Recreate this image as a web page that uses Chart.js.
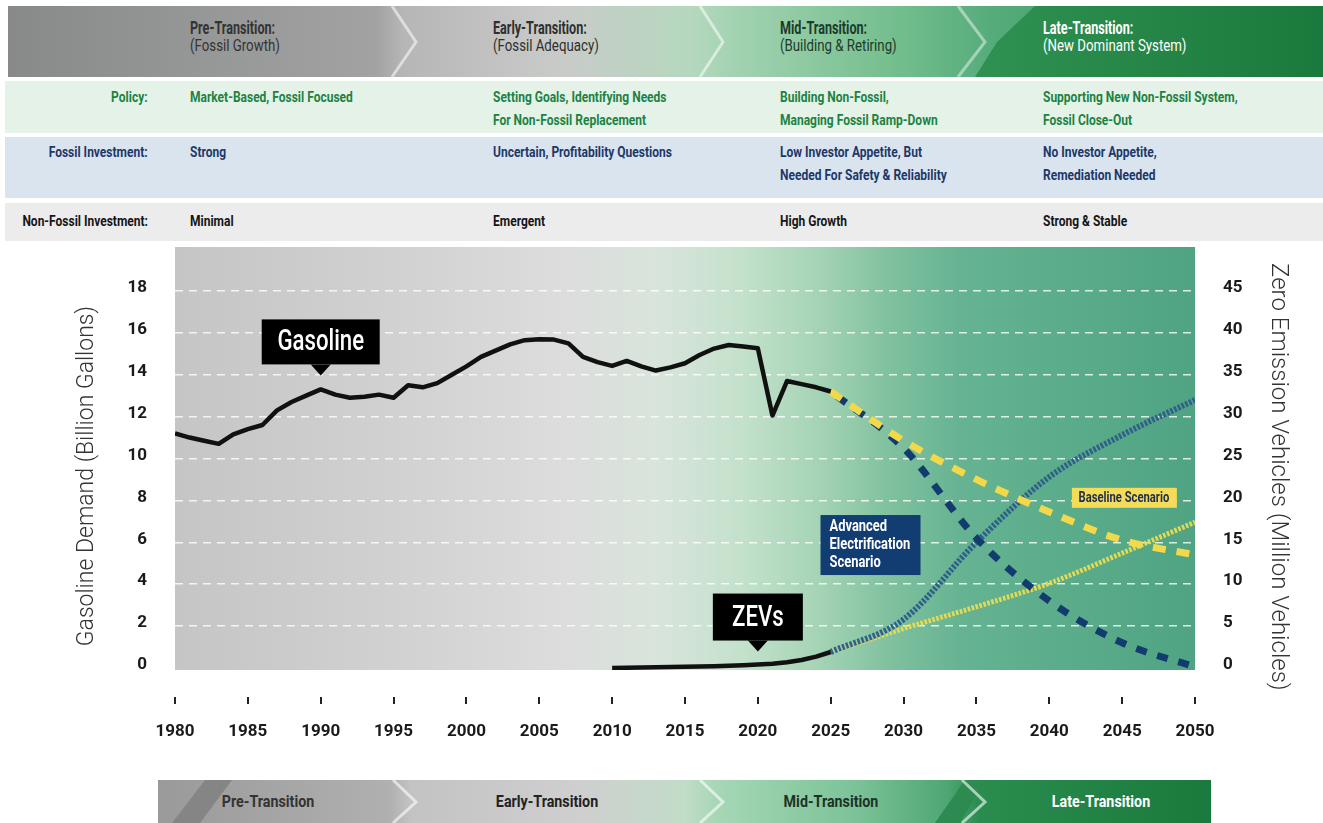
<!DOCTYPE html>
<html>
<head>
<meta charset="utf-8">
<script src="https://cdn.jsdelivr.net/npm/chart.js@4.4.1/dist/chart.umd.min.js"></script>
<style>
  body { margin: 0; width: 1323px; height: 823px; overflow: hidden; position: relative; background: #fff;
    font-family: Roboto, "Liberation Sans", sans-serif; }
  #deco { position: absolute; left: 0; top: 0; }
  .t { position: absolute; white-space: nowrap; transform-origin: 0 0; }
  .ph b { display: block; font-size: 18px; line-height: 17px; transform-origin: 0 0; transform: scaleX(0.7); }
  .ph span { display: block; font-size: 17px; line-height: 19px; transform-origin: 0 0; transform: scaleX(0.78); }
  .row { font-weight: bold; font-size: 15px; line-height: 23px; transform: scaleX(0.8); }
  .lbl { text-align: right; right: 1175px; transform-origin: 100% 0; }
  .pol { color: #1c8243; }
  .fos { color: #1d3868; }
  .non { color: #151515; }
  .foot { top: 791px; font-weight: bold; font-size: 17px; line-height: 20px; transform-origin: 50% 0; transform: translateX(-50%) scaleX(0.84); }
  #wrap { position: absolute; left: 0; top: 245px; width: 1323px; height: 535px; }
</style>
</head>
<body>
<svg id="deco" width="1323" height="823">
  <defs>
    <linearGradient id="gTop" gradientUnits="userSpaceOnUse" x1="8" y1="0" x2="1323" y2="0">
      <stop offset="0" stop-color="#888a8a"/>
      <stop offset="0.28" stop-color="#a2a2a2"/>
      <stop offset="0.3" stop-color="#b6b6b6"/>
      <stop offset="0.42" stop-color="#c9cbc9"/>
      <stop offset="0.52" stop-color="#b5d8be"/>
      <stop offset="0.55" stop-color="#a3d3b2"/>
      <stop offset="0.68" stop-color="#72bd8c"/>
      <stop offset="0.75" stop-color="#55ab7a"/>
      <stop offset="1" stop-color="#2f8f52"/>
    </linearGradient>
    <linearGradient id="gDark" gradientUnits="userSpaceOnUse" x1="975" y1="0" x2="1323" y2="0">
      <stop offset="0" stop-color="#2f9152"/>
      <stop offset="1" stop-color="#1a7a3d"/>
    </linearGradient>
    <linearGradient id="gBot" gradientUnits="userSpaceOnUse" x1="158" y1="0" x2="1211" y2="0">
      <stop offset="0" stop-color="#9a9a9a"/>
      <stop offset="0.22" stop-color="#b0b0b0"/>
      <stop offset="0.24" stop-color="#c3c3c3"/>
      <stop offset="0.4" stop-color="#cfcfcf"/>
      <stop offset="0.5" stop-color="#c2dcc8"/>
      <stop offset="0.53" stop-color="#a6d7b6"/>
      <stop offset="0.66" stop-color="#7dc399"/>
      <stop offset="0.75" stop-color="#4ea673"/>
      <stop offset="0.78" stop-color="#2a8c4e"/>
      <stop offset="1" stop-color="#1a7a3d"/>
    </linearGradient>
  </defs>
  <!-- phase banner -->
  <rect x="8" y="6" width="1315" height="71" fill="url(#gTop)"/>
  <polygon points="1035,6 1323,6 1323,77 975,77 997,42" fill="url(#gDark)"/>
  <polyline points="392,6 416,42 392,77" fill="none" stroke="rgba(255,255,255,0.55)" stroke-width="3"/>
  <polyline points="700,6 723,42 700,77" fill="none" stroke="rgba(255,255,255,0.55)" stroke-width="3"/>
  <polyline points="958,6 985,42 958,77" fill="none" stroke="rgba(255,255,255,0.45)" stroke-width="3"/>
  <!-- rows -->
  <rect x="5" y="81" width="1318" height="52" fill="#e4f2e8"/>
  <rect x="5" y="137" width="1318" height="61" fill="#dae4ee"/>
  <rect x="5" y="203" width="1318" height="38" fill="#ececec"/>
  <!-- bottom banner -->
  <rect x="158" y="780" width="1053" height="43" fill="url(#gBot)"/>
  <polygon points="172,823 205,780 232,780 200,823" fill="#858585"/>
  <polygon points="935,823 965,780 985,780 960,823" fill="#2d8a50"/>
  <polyline points="393,780 416,802 393,823" fill="none" stroke="rgba(255,255,255,0.6)" stroke-width="3"/>
  <polyline points="700,780 723,802 700,823" fill="none" stroke="rgba(255,255,255,0.6)" stroke-width="3"/>
  <polyline points="962,780 985,802 962,823" fill="none" stroke="rgba(255,255,255,0.6)" stroke-width="3"/>
</svg>

<div class="t ph" style="left:190px;top:19px;color:#333"><b>Pre-Transition:</b><span>(Fossil Growth)</span></div>
<div class="t ph" style="left:493px;top:19px;color:#2f2f2f"><b>Early-Transition:</b><span>(Fossil Adequacy)</span></div>
<div class="t ph" style="left:780px;top:19px;color:#1d3b2a"><b>Mid-Transition:</b><span>(Building &amp; Retiring)</span></div>
<div class="t ph" style="left:1043px;top:19px;color:#fff"><b>Late-Transition:</b><span>(New Dominant System)</span></div>

<div class="t row pol lbl" style="top:86px">Policy:</div>
<div class="t row pol" style="left:190px;top:86px">Market-Based, Fossil Focused</div>
<div class="t row pol" style="left:493px;top:86px">Setting Goals, Identifying Needs<br>For Non-Fossil Replacement</div>
<div class="t row pol" style="left:780px;top:86px">Building Non-Fossil,<br>Managing Fossil Ramp-Down</div>
<div class="t row pol" style="left:1043px;top:86px">Supporting New Non-Fossil System,<br>Fossil Close-Out</div>

<div class="t row fos lbl" style="top:141px">Fossil Investment:</div>
<div class="t row fos" style="left:190px;top:141px">Strong</div>
<div class="t row fos" style="left:493px;top:141px">Uncertain, Profitability Questions</div>
<div class="t row fos" style="left:780px;top:141px">Low Investor Appetite, But<br>Needed For Safety &amp; Reliability</div>
<div class="t row fos" style="left:1043px;top:141px">No Investor Appetite,<br>Remediation Needed</div>

<div class="t row non lbl" style="top:210px">Non-Fossil Investment:</div>
<div class="t row non" style="left:190px;top:210px">Minimal</div>
<div class="t row non" style="left:493px;top:210px">Emergent</div>
<div class="t row non" style="left:780px;top:210px">High Growth</div>
<div class="t row non" style="left:1043px;top:210px">Strong &amp; Stable</div>

<div id="wrap"><canvas id="chart" width="1323" height="535"></canvas></div>

<div class="t foot" style="left:268px;color:#333">Pre-Transition</div>
<div class="t foot" style="left:547px;color:#222">Early-Transition</div>
<div class="t foot" style="left:831px;color:#1d3326">Mid-Transition</div>
<div class="t foot" style="left:1101px;color:#fff">Late-Transition</div>

<script>
const FONT = "Roboto, 'Liberation Sans', sans-serif";

// historical gasoline demand, billion gallons
const histYears = [1980, 1981, 1982, 1983, 1984, 1985, 1986, 1987, 1988, 1989,
  1990, 1991, 1992, 1993, 1994, 1995, 1996, 1997, 1998, 1999,
  2000, 2001, 2002, 2003, 2004, 2005, 2006, 2007, 2008, 2009,
  2010, 2011, 2012, 2013, 2014, 2015, 2016, 2017, 2018, 2019,
  2020, 2021, 2022, 2023, 2024, 2025];
const gasolineHist = [11.2, 11.0, 10.85, 10.7, 11.15, 11.4, 11.6, 12.3, 12.7, 13.0,
  13.3, 13.05, 12.9, 12.95, 13.05, 12.9, 13.5, 13.4, 13.6, 14.0,
  14.4, 14.85, 15.15, 15.45, 15.65, 15.7, 15.68, 15.5, 14.85, 14.6,
  14.42, 14.66, 14.4, 14.2, 14.35, 14.55, 14.94, 15.25, 15.42, 15.35,
  15.26, 12.05, 13.7, 13.55, 13.4, 13.2];

// historical zero emission vehicles, million
const zevYears = [2010, 2011, 2012, 2013, 2014, 2015, 2016, 2017, 2018, 2019, 2020, 2021, 2022, 2023, 2024, 2025];
const zevHist = [0, 0.02, 0.04, 0.07, 0.1, 0.13, 0.17, 0.21, 0.26, 0.32, 0.4, 0.5, 0.68, 0.95, 1.35, 1.9];

// scenarios
const projYears = [2025, 2030, 2035, 2040, 2045, 2050];
const gasAdvanced = [13.2, 10.5, 6.2, 3.2, 1.2, 0.05];
const gasBaseline = [13.2, 10.85, 9.0, 7.45, 6.1, 5.4];
const zevAdvanced = [1.9, 5.8, 15.0, 22.8, 27.8, 32.0];
const zevBaseline = [1.9, 4.7, 7.3, 10.1, 13.7, 17.4];

// axis ticks
const yearTicks = [1980, 1985, 1990, 1995, 2000, 2005, 2010, 2015, 2020, 2025, 2030, 2035, 2040, 2045, 2050];
const gasTicks = [0, 2, 4, 6, 8, 10, 12, 14, 16, 18];
const zevTicks = [0, 5, 10, 15, 20, 25, 30, 35, 40, 45];

const pts = (xs, ys) => xs.map((x, i) => ({ x, y: ys[i] }));

// plot background: grey on the left fading into green
const bgPlugin = {
  id: 'bg',
  beforeDraw(chart) {
    const { ctx, chartArea: a, scales: { x } } = chart;
    const g = ctx.createLinearGradient(a.left, 0, a.right, 0);
    const stops = [[1980, '#c5c5c6'], [1995, '#d1d1d2'], [2006, '#dcdcdc'], [2013, '#d9e4dc'],
      [2019, '#c3e1cb'], [2024, '#a6d4b6'], [2029, '#80c19f'], [2034, '#65b392'], [2040, '#5cad8b'], [2050, '#50a483']];
    stops.forEach(([yr, c]) => g.addColorStop((x.getPixelForValue(yr) - a.left) / (a.right - a.left), c));
    ctx.save();
    ctx.fillStyle = g;
    ctx.fillRect(a.left, a.top, a.right - a.left, a.bottom - a.top);
    ctx.restore();
  },
  afterDraw(chart) {
    // short year tick marks below the plot
    const { ctx, scales: { x } } = chart;
    ctx.save();
    ctx.strokeStyle = '#222';
    ctx.lineWidth = 2;
    x.ticks.forEach(t => {
      const px = Math.round(x.getPixelForValue(t.value));
      ctx.beginPath();
      ctx.moveTo(px, x.top + 27);
      ctx.lineTo(px, x.top + 34);
      ctx.stroke();
    });
    ctx.restore();
  },
};

// condensed text: squeeze horizontally around the anchor
function narrowText(ctx, text, x, y, sx) {
  ctx.save();
  ctx.translate(x, y);
  ctx.scale(sx, 1);
  ctx.fillText(text, 0, 0);
  ctx.restore();
}

function callout(ctx, text, cx, tipY, w, h) {
  const bottom = tipY - 11;
  ctx.fillStyle = '#000';
  ctx.fillRect(cx - w / 2, bottom - h, w, h);
  ctx.beginPath();
  ctx.moveTo(cx - 10, bottom);
  ctx.lineTo(cx, tipY);
  ctx.lineTo(cx + 10, bottom);
  ctx.fill();
  ctx.fillStyle = '#fff';
  ctx.font = `500 30px ${FONT}`;
  ctx.textAlign = 'center';
  ctx.textBaseline = 'middle';
  narrowText(ctx, text, cx, bottom - h / 2 + 1, 0.74);
}

const labelPlugin = {
  id: 'labels',
  afterDatasetsDraw(chart) {
    const { ctx, scales: { x, yGas, yZev } } = chart;
    ctx.save();
    callout(ctx, 'Gasoline', x.getPixelForValue(1990), yGas.getPixelForValue(gasolineHist[histYears.indexOf(1990)]) - 14, 118, 45);
    callout(ctx, 'ZEVs', x.getPixelForValue(2020), yZev.getPixelForValue(zevHist[zevYears.indexOf(2020)]) - 13, 90, 47);

    // advanced scenario box
    let l = x.getPixelForValue(2024.3), t = yGas.getPixelForValue(7.3);
    ctx.fillStyle = '#123d73';
    ctx.fillRect(l, t, 100, 60);
    ctx.fillStyle = '#fff';
    ctx.font = `bold 17px ${FONT}`;
    ctx.textAlign = 'left';
    ctx.textBaseline = 'middle';
    ['Advanced', 'Electrification', 'Scenario'].forEach((s, i) => narrowText(ctx, s, l + 9, t + 12 + i * 18, 0.76));

    // baseline scenario box
    l = x.getPixelForValue(2041.55); t = yGas.getPixelForValue(8.6);
    ctx.fillStyle = '#f4dc58';
    ctx.fillRect(l, t, 105, 20);
    ctx.fillStyle = '#1e2d4d';
    ctx.font = `bold 15px ${FONT}`;
    ctx.textAlign = 'center';
    narrowText(ctx, 'Baseline Scenario', l + 52, t + 10.5, 0.75);
    ctx.restore();
  },
};

const tickFont = { family: FONT, size: 17, weight: 'bold' };
const noPad = s => { s.paddingTop = 0; s.paddingBottom = 0; s.paddingLeft = 0; s.paddingRight = 0; };

new Chart(document.getElementById('chart'), {
  type: 'line',
  data: {
    datasets: [
      { data: pts(histYears, gasolineHist), yAxisID: 'yGas', borderColor: '#111', borderWidth: 4.5 },
      { data: pts(zevYears, zevHist), yAxisID: 'yZev', borderColor: '#111', borderWidth: 4.5 },
      { data: pts(projYears, gasBaseline), yAxisID: 'yGas', borderColor: '#f3d94a', borderWidth: 7, borderDash: [13, 11], cubicInterpolationMode: 'monotone' },
      { data: pts(projYears, gasAdvanced), yAxisID: 'yGas', borderColor: '#123c6e', borderWidth: 7, borderDash: [11, 11], borderDashOffset: -8, cubicInterpolationMode: 'monotone' },
      { data: pts(projYears, zevAdvanced), yAxisID: 'yZev', borderColor: '#2f5f8a', borderWidth: 6, borderDash: [2.5, 1.6], cubicInterpolationMode: 'monotone' },
      { data: pts(projYears, zevBaseline), yAxisID: 'yZev', borderColor: '#e6da52', borderWidth: 5, borderDash: [2.5, 1.6], cubicInterpolationMode: 'monotone' },
    ],
  },
  options: {
    responsive: false,
    animation: false,
    layout: { padding: { top: 2 } },
    elements: { point: { radius: 0 }, line: { borderCapStyle: 'butt', borderJoinStyle: 'round' } },
    plugins: { legend: { display: false }, tooltip: { enabled: false } },
    scales: {
      x: {
        type: 'linear', min: 1980, max: 2050,
        afterBuildTicks: s => { s.ticks = yearTicks.map(v => ({ value: v })); },
        afterFit: s => { s.height = 110; noPad(s); },
        grid: { display: false }, border: { display: false },
        ticks: { font: tickFont, color: '#1a1a1a', padding: 44, maxRotation: 0, autoSkip: false, callback: v => String(v) },
      },
      yGas: {
        position: 'left', min: -0.1, max: 20.1,
        afterBuildTicks: s => { s.ticks = gasTicks.map(v => ({ value: v })); },
        afterFit: s => { s.width = 175; noPad(s); },
        grid: { color: c => c.tick && c.tick.value === 0 ? 'rgba(0,0,0,0)' : 'rgba(255,255,255,0.8)', lineWidth: 1.5, drawTicks: false },
        border: { display: false, dash: [8, 6] },
        ticks: { font: tickFont, color: '#1a1a1a', padding: 28, labelOffset: -3 },
        // trailing space nudges the centred title down to where the original sits
        title: { display: true, text: 'Gasoline Demand (Billion Gallons)\u2003\u2002', color: '#333', font: { family: FONT, size: 23, weight: 300 }, padding: { top: 73, bottom: 0 } },
      },
      yZev: {
        position: 'right', min: -0.25, max: 50.25,
        afterBuildTicks: s => { s.ticks = zevTicks.map(v => ({ value: v })); },
        afterFit: s => { s.width = 128; noPad(s); },
        grid: { display: false, drawTicks: false },
        border: { display: false },
        ticks: { font: tickFont, color: '#1a1a1a', padding: 28, labelOffset: -3 },
        title: { display: true, text: '\u2003\u2002Zero Emission Vehicles (Million Vehicles)', color: '#333', font: { family: FONT, size: 24, weight: 300 }, padding: { top: 31, bottom: 0 } },
      },
    },
  },
  plugins: [bgPlugin, labelPlugin],
});
</script>
</body>
</html>
